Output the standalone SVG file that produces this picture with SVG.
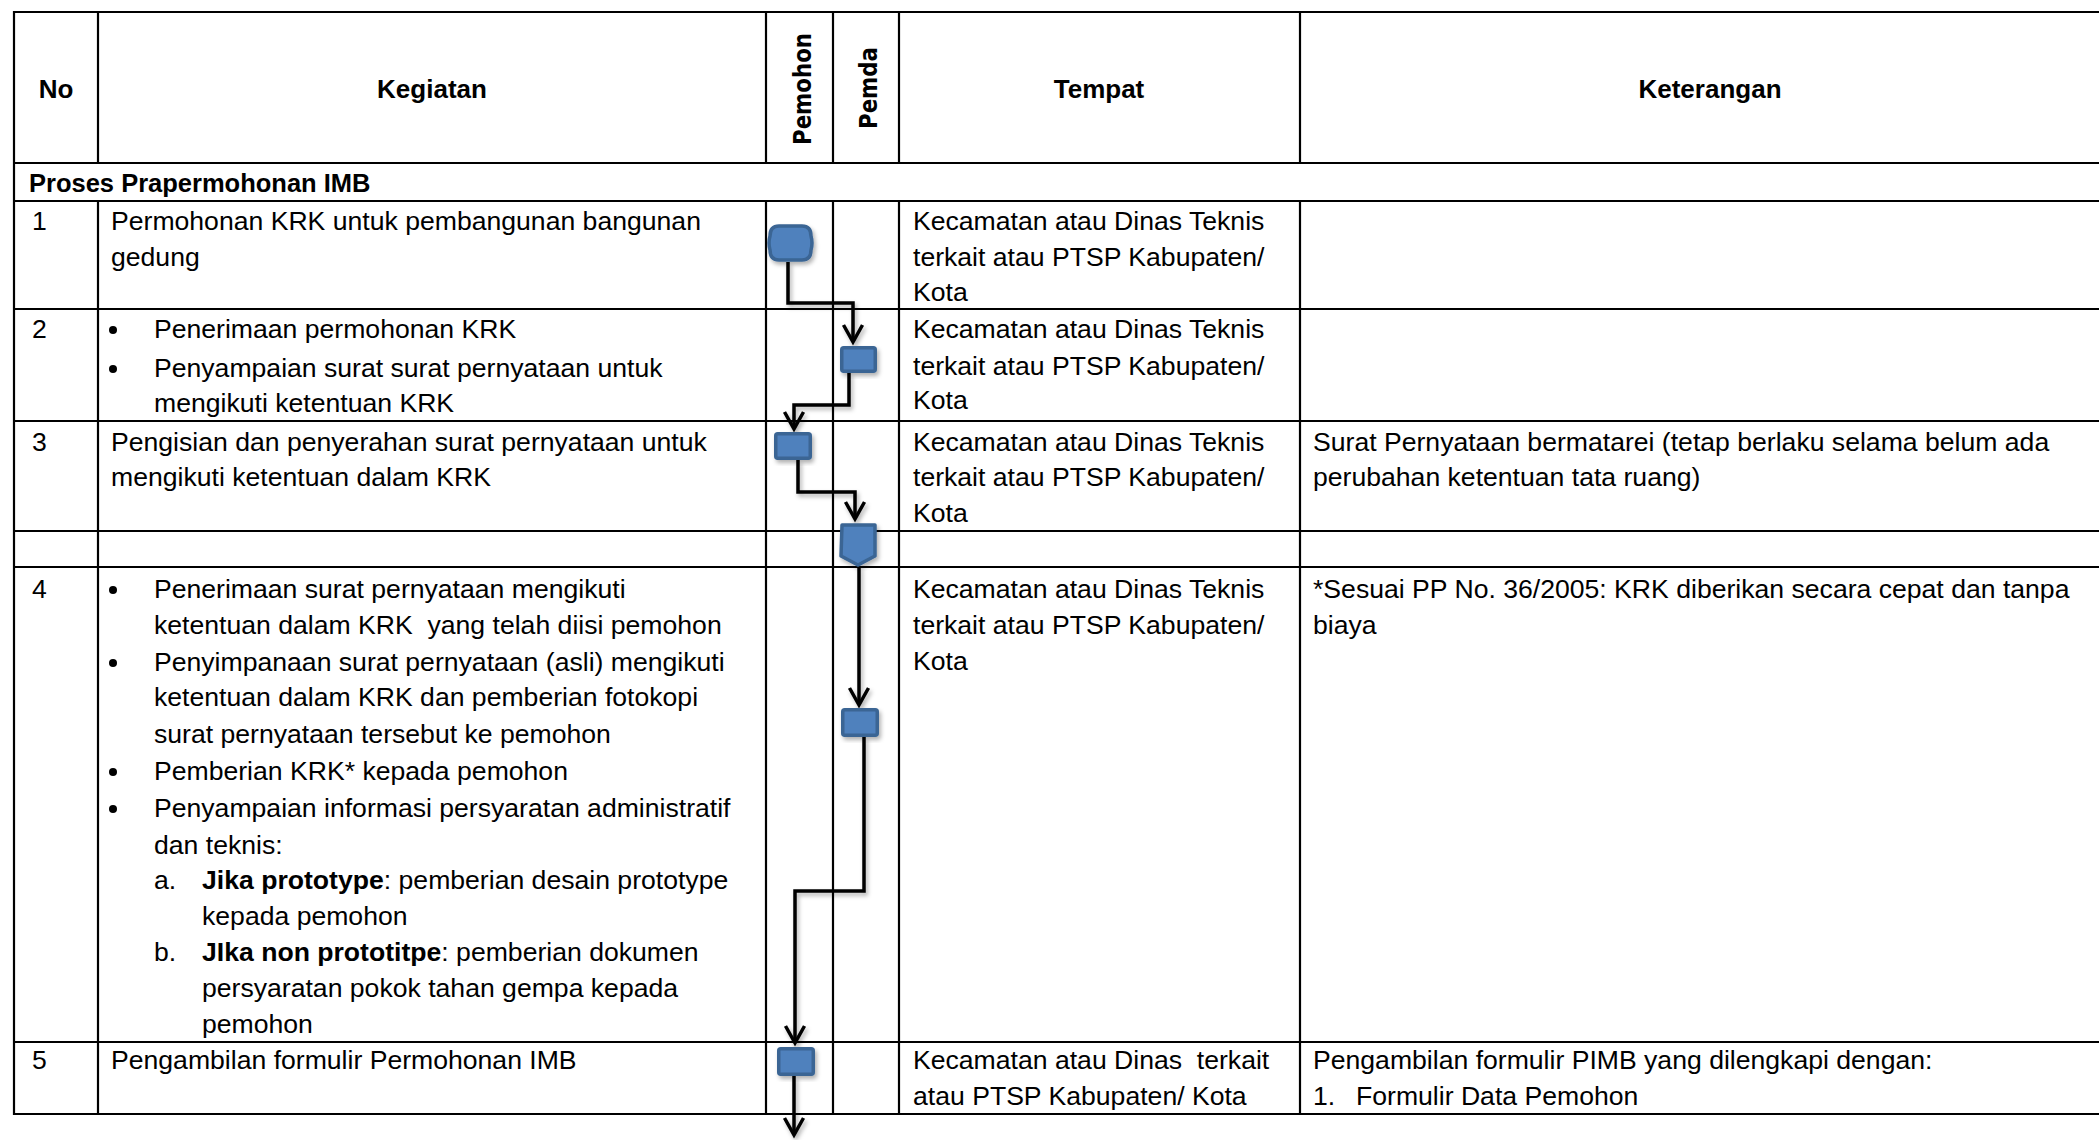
<svg xmlns="http://www.w3.org/2000/svg" width="2099" height="1140" viewBox="0 0 2099 1140">
<style>
  .grid line { stroke: #000; stroke-width: 2.2; }
  text { font-family: "Liberation Sans", Arial, sans-serif; font-size: 26.6px; fill: #000; white-space: pre; }
  .h { font-weight: bold; font-size: 26px; text-anchor: middle; }
  .hs { font-family: "DejaVu Sans", sans-serif; font-weight: bold; font-size: 24px; text-anchor: middle; }
  .b { font-weight: bold; }
  .sec { font-weight: bold; font-size: 25.5px; }
  .node { fill: #4F81BD; stroke: #3A6594; stroke-width: 3.5; stroke-linejoin: round; }
  .conn path { fill: none; stroke: #000; stroke-width: 3.5; stroke-linejoin: miter; }
  .bul { fill: #000; }
</style>
<defs>
  <filter id="sh" x="-30%" y="-30%" width="160%" height="160%">
    <feDropShadow dx="2" dy="3" stdDeviation="2" flood-color="#000" flood-opacity="0.3"/>
  </filter>
  <marker id="arr" markerUnits="userSpaceOnUse" viewBox="-20 -12 22 24" markerWidth="22" markerHeight="24" refX="0" refY="0" orient="auto" overflow="visible">
    <path d="M-17,-9.5 L0,0 L-17,9.5" fill="none" stroke="#000" stroke-width="3.5" stroke-linejoin="miter"/>
  </marker>
</defs>
<rect width="2099" height="1140" fill="#fff"/>

<g id="table" class="grid">
  <line x1="14" y1="12" x2="2099" y2="12"/>
  <line x1="14" y1="163" x2="2099" y2="163"/>
  <line x1="14" y1="201" x2="2099" y2="201"/>
  <line x1="14" y1="309" x2="2099" y2="309"/>
  <line x1="14" y1="421" x2="2099" y2="421"/>
  <line x1="14" y1="531" x2="2099" y2="531"/>
  <line x1="14" y1="567" x2="2099" y2="567"/>
  <line x1="14" y1="1042" x2="2099" y2="1042"/>
  <line x1="14" y1="1114" x2="2099" y2="1114"/>
  <line x1="14" y1="11" x2="14" y2="1115"/>
  <line x1="98" y1="12" x2="98" y2="163"/>
  <line x1="766" y1="12" x2="766" y2="163"/>
  <line x1="833" y1="12" x2="833" y2="163"/>
  <line x1="899" y1="12" x2="899" y2="163"/>
  <line x1="1300" y1="12" x2="1300" y2="163"/>
  <line x1="98" y1="201" x2="98" y2="1114"/>
  <line x1="766" y1="201" x2="766" y2="1114"/>
  <line x1="833" y1="201" x2="833" y2="1114"/>
  <line x1="899" y1="201" x2="899" y2="1114"/>
  <line x1="1300" y1="201" x2="1300" y2="1114"/>
</g>

<g id="header">
  <text class="h" x="56" y="98">No</text>
  <text class="h" x="432" y="98">Kegiatan</text>
  <text class="hs" transform="translate(811,89) rotate(-90)" textLength="112" lengthAdjust="spacingAndGlyphs">Pemohon</text>
  <text class="hs" transform="translate(877,88) rotate(-90)" textLength="82" lengthAdjust="spacingAndGlyphs">Pemda</text>
  <text class="h" x="1099" y="98">Tempat</text>
  <text class="h" x="1710" y="98">Keterangan</text>
  <text class="sec" x="29" y="192">Proses Prapermohonan IMB</text>
</g>

<g id="row1">
  <text x="32" y="230">1</text>
  <text x="111" y="230">Permohonan KRK untuk pembangunan bangunan</text>
  <text x="111" y="266">gedung</text>
  <text x="913" y="230">Kecamatan atau Dinas Teknis</text>
  <text x="913" y="266">terkait atau PTSP Kabupaten/</text>
  <text x="913" y="301">Kota</text>
</g>

<g id="row2">
  <text x="32" y="338">2</text>
  <circle class="bul" cx="113" cy="330" r="4"/>
  <text x="154" y="338">Penerimaan permohonan KRK</text>
  <circle class="bul" cx="113" cy="369" r="4"/>
  <text x="154" y="377">Penyampaian surat surat pernyataan untuk</text>
  <text x="154" y="412">mengikuti ketentuan KRK</text>
  <text x="913" y="338">Kecamatan atau Dinas Teknis</text>
  <text x="913" y="375">terkait atau PTSP Kabupaten/</text>
  <text x="913" y="409">Kota</text>
</g>

<g id="row3">
  <text x="32" y="451">3</text>
  <text x="111" y="451">Pengisian dan penyerahan surat pernyataan untuk</text>
  <text x="111" y="486">mengikuti ketentuan dalam KRK</text>
  <text x="913" y="451">Kecamatan atau Dinas Teknis</text>
  <text x="913" y="486">terkait atau PTSP Kabupaten/</text>
  <text x="913" y="522">Kota</text>
  <text x="1313" y="451">Surat Pernyataan bermatarei (tetap berlaku selama belum ada</text>
  <text x="1313" y="486">perubahan ketentuan tata ruang)</text>
</g>

<g id="row4">
  <text x="32" y="598">4</text>
  <circle class="bul" cx="113" cy="590" r="4"/>
  <text x="154" y="598">Penerimaan surat pernyataan mengikuti</text>
  <text x="154" y="634">ketentuan dalam KRK  yang telah diisi pemohon</text>
  <circle class="bul" cx="113" cy="663" r="4"/>
  <text x="154" y="671">Penyimpanaan surat pernyataan (asli) mengikuti</text>
  <text x="154" y="706">ketentuan dalam KRK dan pemberian fotokopi</text>
  <text x="154" y="743">surat pernyataan tersebut ke pemohon</text>
  <circle class="bul" cx="113" cy="772" r="4"/>
  <text x="154" y="780">Pemberian KRK* kepada pemohon</text>
  <circle class="bul" cx="113" cy="809" r="4"/>
  <text x="154" y="817">Penyampaian informasi persyaratan administratif</text>
  <text x="154" y="854">dan teknis:</text>
  <text x="154" y="889">a.</text>
  <text x="202" y="889"><tspan class="b">Jika prototype</tspan>: pemberian desain prototype</text>
  <text x="202" y="925">kepada pemohon</text>
  <text x="154" y="961">b.</text>
  <text x="202" y="961"><tspan class="b">JIka non prototitpe</tspan>: pemberian dokumen</text>
  <text x="202" y="997">persyaratan pokok tahan gempa kepada</text>
  <text x="202" y="1033">pemohon</text>
  <text x="913" y="598">Kecamatan atau Dinas Teknis</text>
  <text x="913" y="634">terkait atau PTSP Kabupaten/</text>
  <text x="913" y="670">Kota</text>
  <text x="1313" y="598">*Sesuai PP No. 36/2005: KRK diberikan secara cepat dan tanpa</text>
  <text x="1313" y="634">biaya</text>
</g>

<g id="row5">
  <text x="32" y="1069">5</text>
  <text x="111" y="1069">Pengambilan formulir Permohonan IMB</text>
  <text x="913" y="1069">Kecamatan atau Dinas  terkait</text>
  <text x="913" y="1105">atau PTSP Kabupaten/ Kota</text>
  <text x="1313" y="1069">Pengambilan formulir PIMB yang dilengkapi dengan:</text>
  <text x="1313" y="1105">1.</text>
  <text x="1356" y="1105">Formulir Data Pemohon</text>
</g>

<g id="connectors" class="conn" filter="url(#sh)">
  <path d="M788,262 V303 H853 V342" marker-end="url(#arr)"/>
  <path d="M849,373 V405 H794 V429" marker-end="url(#arr)"/>
  <path d="M798,460 V492 H855 V519" marker-end="url(#arr)"/>
  <path d="M859,567 V705" marker-end="url(#arr)"/>
  <path d="M864,737 V891 H795 V1043" marker-end="url(#arr)"/>
  <path d="M794,1076 V1135" marker-end="url(#arr)"/>
</g>

<g id="node1" filter="url(#sh)">
  <path class="node" d="M779,226 H802 Q811,226 811,236 Q813,243 811,250 Q811,260 802,260 H779 Q770,260 770,250 Q768,243 770,236 Q770,226 779,226 Z"/>
</g>
<g id="node2" filter="url(#sh)">
  <rect class="node" x="841.75" y="347.75" width="33.5" height="23.5" rx="2"/>
</g>
<g id="node3" filter="url(#sh)">
  <rect class="node" x="775.75" y="433.75" width="34.5" height="24.5" rx="2"/>
</g>
<g id="node4" filter="url(#sh)">
  <path class="node" d="M842,525 H875 V556 L858,565 L841,556 Z"/>
</g>
<g id="node5" filter="url(#sh)">
  <rect class="node" x="842.75" y="709.75" width="34.5" height="25.5" rx="2"/>
</g>
<g id="node6" filter="url(#sh)">
  <rect class="node" x="778.75" y="1048.75" width="34.5" height="25.5" rx="2"/>
</g>
</svg>
